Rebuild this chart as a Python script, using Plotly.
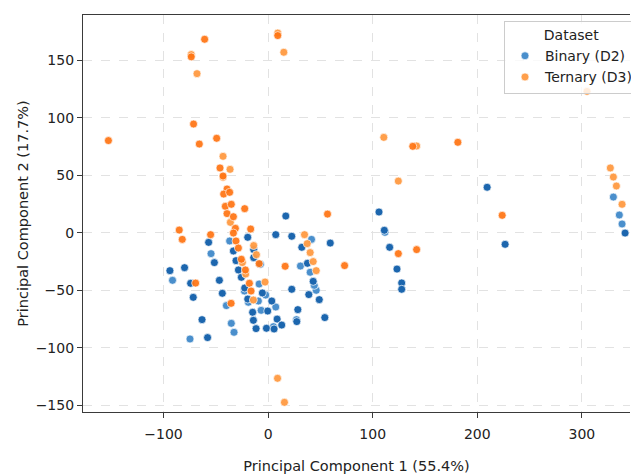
import plotly.graph_objects as go

# Binary (D2) points: stronger and lighter shade
binary_dark_x = [16.9, -56.9, -19.5, -33.2, -13.8, -13.8, 7.3, 22.6, 32.2, 59.4, -51.4, -30.7, 37.6,
                 -93.9, -79.9, -74.1, -71.6, -46.6, -43.8, -28.4, -25.6, -22.4, -5.5, -19.5, 3.5,
                 -14.8, -0.4, 28.4, 54.2, 48.9, 38.9, 43.1, 22.6, -14.1, 8.6, 13.0, 27.4, -63.2,
                 -11.5, -1.6, 5.7, -57.9, 209.4, 106.0, 111.1, 226.6, 116.2, 123.2, 127.7, 127.7, 341.3]
binary_dark_y = [14.6, -8.3, -3.9, -15.8, -14.6, -21.6, -1.6, -3.0, -12.6, -8.9, -25.9, -24.2, -26.5,
                 -32.9, -30.3, -43.9, -56.1, -41.3, -52.6, -32.3, -38.7, -48.0, -52.3, -57.6, -59.3,
                 -69.1, -68.0, -66.8, -73.7, -58.1, -53.7, -42.2, -49.1, -76.1, -75.0, -80.2, -77.2, -75.5,
                 -83.3, -83.0, -83.6, -91.1, 39.6, 18.1, 2.2, -10.0, -12.6, -31.5, -43.6, -49.1, -0.2]
binary_light_x = [-36.8, 41.5, -54.6, -7.4, 30.9, 40.2, -91.4, -39.9, -8.6, -22.7, -2.3, -18.9, -9.3,
                  7.3, -6.7, 46.0, 44.1, 27.1, -35.2, -32.6, 5.1, -74.7, 111.7, 330.1, 335.8, 338.4]
binary_light_y = [-7.1, -5.7, -18.1, -27.4, -28.9, -34.3, -41.3, -63.3, -44.5, -50.6, -54.1, -60.4, -59.3,
                  -64.5, -67.4, -50.0, -45.7, -75.5, -78.7, -86.5, -81.6, -92.3, 0.4, 31.1, 15.5, 7.7]

# Ternary (D3) points
ternary_dark_x = [-60.7, -73.5, 9.2, -71.3, -152.7, -65.8, -49.2, -46.0, -43.1, -39.3, -42.5, -36.8,
                  -40.9, -35.2, -22.4, -39.3, -33.2, -31.3, -33.2, -16.7, 56.8, -85.0, -82.1, -55.0,
                  -30.7, -28.4, -25.6, -8.6, 16.3, 73.1, -69.3, -35.4, -21.7, -17.9, -16.3, 138.3,
                  181.4, 223.8, 124.5, 142.0]
ternary_dark_y = [168.3, 153.0, 171.5, 94.6, 80.2, 77.2, 82.2, 56.4, 49.4, 38.1, 33.7, 35.2,
                  23.0, 24.8, 21.0, 16.7, 14.0, 3.9, -0.2, 3.3, 16.3, 2.4, -5.7, -1.6,
                  -7.1, -13.2, -23.0, -26.8, -29.1, -28.5, -43.7, -61.3, -32.3, -43.9, -50.6, 75.2,
                  78.7, 15.2, -18.1, -14.6]
ternary_light_x = [-73.5, -68.0, 9.2, 15.0, -43.1, -36.4, -43.1, -36.1, -13.8, -11.2, 34.8, 37.4,
                   40.2, -24.6, 43.1, 46.0, -21.4, -2.9, -14.1, 9.0, 15.6, 124.5, 110.6, 142.0,
                   304.9, 327.2, 330.1, 333.0, 338.4]
ternary_light_y = [155.0, 138.4, 173.7, 157.0, 66.5, 55.2, 48.3, 9.1, -11.1, -19.0, -1.6, -9.4,
                   -17.2, -25.9, -25.0, -32.9, -35.8, -42.8, -58.4, -126.5, -147.4, 45.0, 83.0, 75.5,
                   123.0, 56.4, 48.5, 40.7, 24.8]

x_ticks = [-100, 0, 100, 200, 300]
y_ticks = [-150, -100, -50, 0, 50, 100, 150]

FONT = "DejaVu Sans"
line = dict(color="white", width=0.7)

fig = go.Figure()
fig.add_trace(go.Scatter(x=binary_light_x, y=binary_light_y, mode="markers", name="Binary (D2)",
                         legendgroup="b", marker=dict(color="#4a8fcc", size=8, line=line)))
fig.add_trace(go.Scatter(x=binary_dark_x, y=binary_dark_y, mode="markers", name="Binary (D2)",
                         legendgroup="b", showlegend=False,
                         marker=dict(color="#1c66ae", size=8, line=line)))
fig.add_trace(go.Scatter(x=ternary_light_x, y=ternary_light_y, mode="markers", name="Ternary (D3)",
                         legendgroup="t", marker=dict(color="#ff9a42", size=8, line=line, opacity=0.95)))
fig.add_trace(go.Scatter(x=ternary_dark_x, y=ternary_dark_y, mode="markers", name="Ternary (D3)",
                         legendgroup="t", showlegend=False,
                         marker=dict(color="#ff7412", size=8, line=line, opacity=0.92)))

axis_common = dict(
    showgrid=True, gridcolor="#e2e2e2", griddash="dash", gridwidth=0.8,
    zeroline=False, showline=True, linecolor="#3a3a3a", linewidth=1.2,
    ticks="outside", ticklen=5, tickcolor="#3a3a3a",
    tickfont=dict(family=FONT, size=14, color="#222"),
)

fig.update_layout(
    width=631, height=466,
    margin=dict(l=75, r=0, t=7, b=62),
    paper_bgcolor="white", plot_bgcolor="white",
    font=dict(family=FONT, color="#222"),
    xaxis=dict(range=[-177, 346], tickvals=x_ticks, mirror=True, ticklabelstandoff=4,
               title=dict(text="Principal Component 1 (55.4%)", font=dict(family=FONT, size=14.5), standoff=19),
               **axis_common),
    yaxis=dict(range=[-155.8, 189.4], tickvals=y_ticks,
               title=dict(text="Principal Component 2 (17.7%)", font=dict(family=FONT, size=14.5), standoff=3),
               **axis_common),
    legend=dict(x=0.77, y=0.985, xanchor="left", yanchor="top",
                bgcolor="rgba(255,255,255,0.8)", bordercolor="#cccccc", borderwidth=1,
                font=dict(family=FONT, size=14),
                title=dict(text="Dataset", side="top center", font=dict(family=FONT, size=14)),
                tracegroupgap=0),
)

fig.write_html("out.html")
